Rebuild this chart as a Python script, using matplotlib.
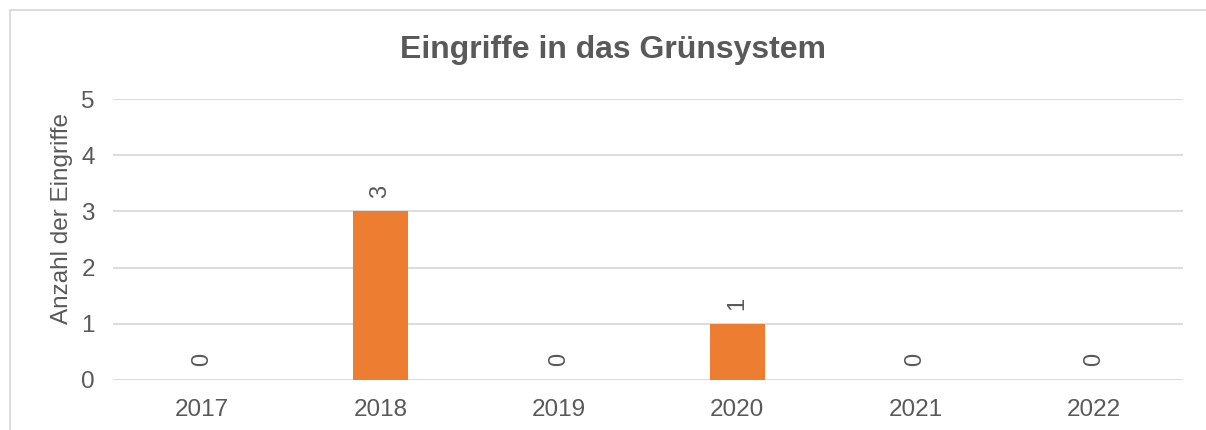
import matplotlib.pyplot as plt
from matplotlib.lines import Line2D

plt.rcParams['font.family'] = ['Liberation Sans', 'DejaVu Sans']

# data
years = ['2017', '2018', '2019', '2020', '2021', '2022']
eingriffe = [0, 3, 0, 1, 0, 0]

text_col = '#595959'
grid_col = '#D9D9D9'
bar_col = '#ED7D31'

W, H = 1206, 430
fig = plt.figure(figsize=(W / 100, H / 100), dpi=100)
ax = fig.add_axes([113 / W, 1 - 380 / H, (1183 - 113) / W, (380 - 99) / H])

x = range(len(years))
bars = ax.bar(x, eingriffe, width=0.31, color=bar_col, zorder=3)

ax.set_xlim(-0.5, len(years) - 0.5)
ax.set_ylim(0, 5)
ax.set_yticks(range(6))
ax.set_xticks(list(x))
ax.set_xticklabels(years)
ax.grid(axis='y', color=grid_col, linewidth=1.3, zorder=0)
ax.set_axisbelow(True)
for s in ax.spines.values():
    s.set_visible(False)
ax.tick_params(axis='both', length=0, labelsize=17.5, colors=text_col)
ax.tick_params(axis='x', pad=14)
ax.tick_params(axis='y', pad=13)

# data labels, rotated like in the original
for xi, v in zip(x, eingriffe):
    ax.annotate(str(v), (xi, v), xytext=(0, 10), textcoords='offset points',
                ha='center', va='bottom', rotation=90, fontsize=17,
                color=text_col)

fig.text(62 / W, 1 - 218 / H, 'Anzahl der Eingriffe', rotation=90,
         ha='center', va='center', fontsize=17.5, color=text_col)
fig.text(613 / W, 1 - 50 / H, 'Eingriffe in das Grünsystem', ha='center',
         va='center', fontsize=23, fontweight='bold', color=text_col)

# outer chart frame (only top/left visible in the crop)
fig.add_artist(Line2D([9.5 / W, 1], [1 - 9.5 / H, 1 - 9.5 / H],
                      transform=fig.transFigure, color=grid_col, lw=1.3))
fig.add_artist(Line2D([9.5 / W, 9.5 / W], [0, 1 - 9.5 / H],
                      transform=fig.transFigure, color=grid_col, lw=1.3))

fig.savefig('out.png', dpi=100)
